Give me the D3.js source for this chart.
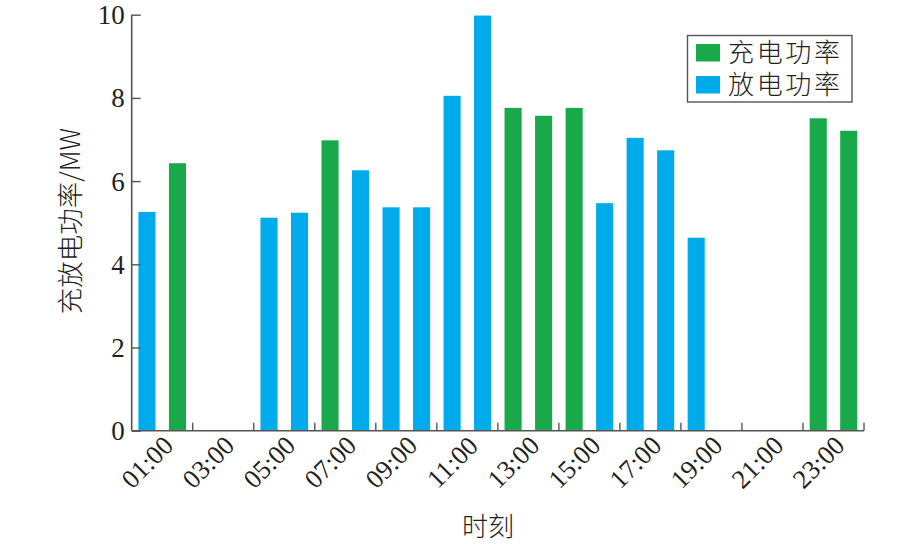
<!DOCTYPE html>
<html><head><meta charset="utf-8">
<script src="https://cdn.jsdelivr.net/npm/d3@7/dist/d3.min.js"></script>
<style>
body{margin:0;background:#fff;}
text{font-family:"Liberation Serif","Times New Roman",serif;fill:#231f20;}
.cjk{font-family:"Noto Sans CJK SC","Noto Sans",sans-serif;font-weight:300;}
</style></head>
<body><svg id="c" width="922" height="544"></svg>
<script>
const hours = ["01:00","02:00","03:00","04:00","05:00","06:00","07:00","08:00","09:00","10:00","11:00","12:00",
               "13:00","14:00","15:00","16:00","17:00","18:00","19:00","20:00","21:00","22:00","23:00","24:00"];
const chargePower    = [null,6.43,null,null,null,null,6.98,null,null,null,null,null,7.76,7.57,7.76,null,null,null,null,null,null,null,7.51,7.21];
const dischargePower = [5.26,null,null,null,5.12,5.24,null,6.26,5.37,5.37,8.05,9.98,null,null,null,5.47,7.04,6.74,4.64,null,null,null,null,null];
const yTicks = [0,2,4,6,8,10];
const xTickLabels = ["01:00","03:00","05:00","07:00","09:00","11:00","13:00","15:00","17:00","19:00","21:00","23:00"];
const seriesNames = ["充电功率","放电功率"];
const colors = ["#19a94a","#00abeb"];

const svg = d3.select("#c");
const L = 131.7, R = 864, T = 14.7, B = 430.7;
const x = d3.scaleBand().domain(hours).range([L,R]).paddingInner(0.44).paddingOuter(0.22);
const y = d3.scaleLinear().domain([0,10]).range([B,T]);
const axisColor = "#555";

// bars
const rows = hours.map((h,i)=>({h, c:chargePower[i], d:dischargePower[i]}));
svg.append("g").selectAll("rect").data(rows.filter(r=>r.c!=null)).join("rect")
  .attr("x",r=>x(r.h)).attr("width",x.bandwidth())
  .attr("y",r=>y(r.c)).attr("height",r=>y(0)-y(r.c)).attr("fill",colors[0]);
svg.append("g").selectAll("rect").data(rows.filter(r=>r.d!=null)).join("rect")
  .attr("x",r=>x(r.h)).attr("width",x.bandwidth())
  .attr("y",r=>y(r.d)).attr("height",r=>y(0)-y(r.d)).attr("fill",colors[1]);

// y axis
const yAx = svg.append("g").attr("transform",`translate(${L},0)`)
  .call(d3.axisRight(y).tickValues(yTicks).tickSize(9).tickFormat(""));
yAx.select(".domain").attr("stroke",axisColor).attr("stroke-width",1.6).attr("d",`M0,${T}V${B}`);
yAx.selectAll(".tick line").attr("stroke",axisColor).attr("stroke-width",1.4);
svg.append("g").selectAll("text").data(yTicks).join("text")
  .attr("x",L-7).attr("y",d=>y(d)).attr("dy","0.35em").attr("text-anchor","end")
  .attr("font-size",27).text(d=>d);

// x axis
const step = x.step();
const bounds = d3.range(1,13).map(k=>hours[2*k-1]);
svg.append("line").attr("x1",L).attr("x2",R).attr("y1",B).attr("y2",B)
  .attr("stroke",axisColor).attr("stroke-width",1.6);
svg.append("g").selectAll("line").data(bounds).join("line")
  .attr("x1",h=>x(h)+x.bandwidth()+(step-x.bandwidth())/2).attr("x2",h=>x(h)+x.bandwidth()+(step-x.bandwidth())/2)
  .attr("y1",B).attr("y2",B-8).attr("stroke",axisColor).attr("stroke-width",1.4);
svg.append("g").selectAll("text").data(xTickLabels).join("text")
  .attr("transform",h=>`translate(${x(h)+x.bandwidth()/2},462) rotate(-45)`)
  .attr("text-anchor","middle").attr("dy","0.35em").attr("font-size",26.5).text(h=>h);

// axis titles
svg.append("text").attr("class","cjk").attr("transform","translate(80,221) rotate(-90)")
  .attr("text-anchor","middle").attr("font-size",26.5).text("充放电功率/MW");
svg.append("text").attr("class","cjk").attr("x",488).attr("y",536).attr("text-anchor","middle")
  .attr("font-size",26).text("时刻");

// legend
const lg = svg.append("g");
lg.append("rect").attr("x",687.5).attr("y",35.5).attr("width",164.5).attr("height",66.5)
  .attr("fill","#fff").attr("stroke","#555").attr("stroke-width",1.4);
seriesNames.forEach((n,i)=>{
  lg.append("rect").attr("x",696).attr("y",44+i*32).attr("width",24).attr("height",17.5).attr("fill",colors[i]);
  lg.append("text").attr("class","cjk").attr("x",728).attr("y",52.7+i*32).attr("dy","0.36em")
    .attr("font-size",26).attr("textLength",112).text(n);
});
</script></body></html>
